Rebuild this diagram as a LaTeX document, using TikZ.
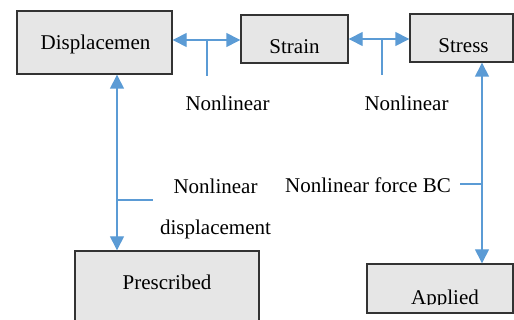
\documentclass[tikz,border=0pt]{standalone}
\usepackage{fontspec}
\setmainfont{Liberation Serif}
\usetikzlibrary{arrows.meta,calc}
\definecolor{boxfill}{HTML}{E6E6E6}
\definecolor{boxline}{HTML}{333333}
\definecolor{arrblue}{HTML}{5B9BD5}
\begin{document}
\begin{tikzpicture}[x=1pt,y=-1pt,
  box/.style={draw=boxline,fill=boxfill,line width=1.4pt,rectangle,inner sep=0pt},
  txt/.style={anchor=base,inner sep=0pt,font=\fontsize{21}{25}\selectfont},
  conn/.style={draw=arrblue,line width=1.4pt},
  biarrow/.style={conn,{Triangle[length=14pt,width=14pt]}-{Triangle[length=14pt,width=14pt]}}]
\useasboundingbox (0,0) rectangle (514,320);
\clip (0,0) rectangle (514,320);
% boxes
\node[box,minimum width=155pt,minimum height=63pt] (disp) at (94.5,42.5) {};
\node[box,minimum width=107pt,minimum height=48pt] (strain) at (294.5,39) {};
\node[box,minimum width=103pt,minimum height=48pt] (stress) at (461.5,38) {};
\node[box,minimum width=184pt,minimum height=100pt] (presc) at (167,301) {};
\node[box,minimum width=146pt,minimum height=49pt] (applied) at (440,288.5) {};
% box texts
\node[txt] (tdisp) at (95.5,50) {Displacemen};
\node[txt] (tstrain) at (294.5,54) {Strain};
\node[txt] (tstress) at (463.5,53) {Stress};
\node[txt] (tpresc) at (167,290) {Prescribed};
\begin{scope}
\clip (367,264) rectangle (513,305);
\node[txt] (tapplied) at (445,305) {Applied};
\end{scope}
% labels
\node[txt] (l1) at (227.5,111) {Nonlinear};
\node[txt] (l2) at (406.5,111) {Nonlinear};
\node[txt] (l3) at (215.5,194) {Nonlinear};
\node[txt] (l4) at (215.5,235) {displacement};
\node[txt] (l5) at (368,193) {Nonlinear force BC};
% tick coordinates
\coordinate (t1) at (207,76);
\coordinate (t2) at (382,75);
\coordinate (t3) at (117,200);
\coordinate (t3e) at (153,200);
\coordinate (t4) at (482,184);
\coordinate (t4e) at (460,184);
% horizontal connectors
\draw[biarrow] (disp.east |- 0,40) -- (strain.west |- 0,40);
\draw[conn] (t1 |- 0,40) -- (t1);
\draw[biarrow] (strain.east |- 0,39) -- (stress.west |- 0,39);
\draw[conn] (t2 |- 0,39) -- (t2);
% vertical connectors
\draw[biarrow] (t3 |- disp.south) -- (t3 |- presc.north);
\draw[conn] (t3) -- (t3e);
\draw[biarrow] (t4 |- stress.south) -- (t4 |- applied.north);
\draw[conn] (t4) -- (t4e);
\end{tikzpicture}
\end{document}
